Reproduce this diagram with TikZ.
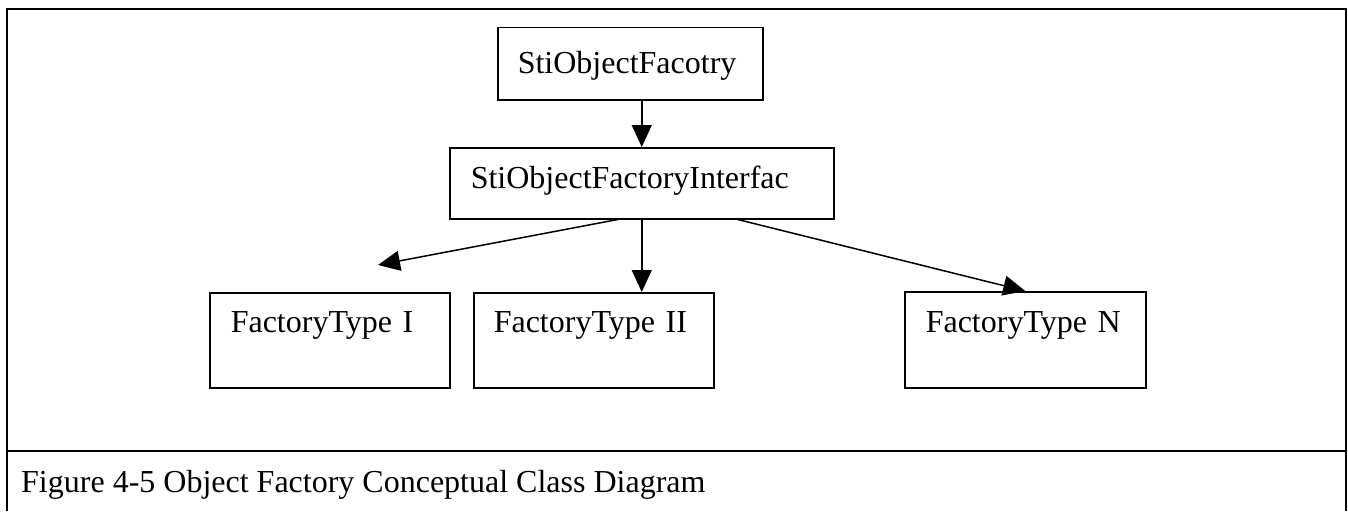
\documentclass[tikz,border=0pt]{standalone}
\usepackage{fontspec}
\setmainfont{Liberation Serif}
\usetikzlibrary{arrows.meta}
\begin{document}
\begin{tikzpicture}[x=1pt,y=-1pt,
  cls/.style={draw, line width=1.5pt, anchor=north west, inner ysep=0pt,
    align=left, font=\fontsize{32}{38}\selectfont},
  arr/.style={line width=1.5pt, -{Triangle[length=22pt,width=20pt]}},
  frame/.style={line width=2.5pt}]
\useasboundingbox (0,0) rectangle (1348,511);
% outer frame and caption separator
\draw[frame] (7,511) -- (7,9) -- (1346,9) -- (1346,511);
\draw[frame] (7,451) -- (1346,451);
% classes
\node[cls, minimum width=265pt, text width=225pt, minimum height=72pt,
  text height=46pt, text depth=26pt, inner xsep=20pt] (top) at (497,27) {StiObjectFacotry};
\node[cls, minimum width=384pt, text width=342pt, minimum height=71pt,
  text height=41pt, text depth=30pt, inner xsep=21pt] (ifc) at (449,147) {StiObjectFactoryInterfac};
\node[cls, minimum width=240pt, text width=198pt, minimum height=95pt,
  text height=40pt, text depth=55pt, inner xsep=21pt] (f1) at (209,292) {FactoryType I};
\node[cls, minimum width=240pt, text width=200pt, minimum height=95pt,
  text height=40pt, text depth=55pt, inner xsep=20pt] (f2) at (473,292) {FactoryType II};
\node[cls, minimum width=241pt, text width=199pt, minimum height=96pt,
  text height=41pt, text depth=55pt, inner xsep=21pt] (fn) at (904,291) {FactoryType N};
% connectors
\coordinate (e1) at (378,265);
\draw[arr] (ifc.north |- top.south) -- (ifc.north);
\draw[arr] (ifc.south) -- (ifc.south |- f2.north);
\draw[arr] ([xshift=-24pt]ifc.south) -- (e1);
\draw[arr] ([xshift=96pt]ifc.south) -- (fn.north);
% caption
\node[anchor=base west, inner sep=0pt, font=\fontsize{32}{38}\selectfont] (cap) at (21,492)
  {Figure 4-5 Object Factory Conceptual Class Diagram};
\end{tikzpicture}
\end{document}
